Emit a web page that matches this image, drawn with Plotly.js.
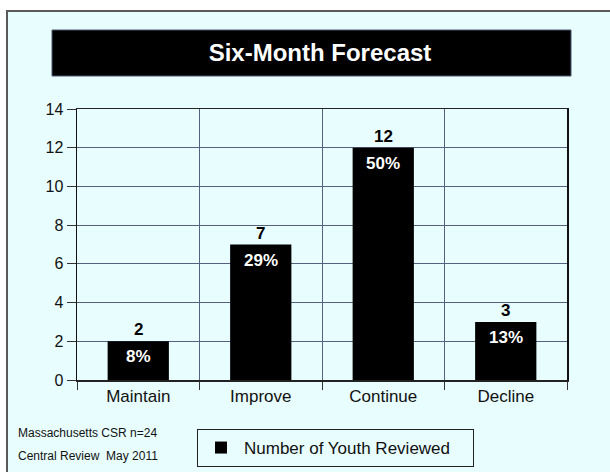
<!DOCTYPE html>
<html>
<head>
<meta charset="utf-8">
<script src="https://cdn.plot.ly/plotly-3.0.1.min.js"></script>
<style>
  html, body { margin: 0; padding: 0; background: #ffffff; }
  #chart { width: 610px; height: 472px; }
</style>
</head>
<body>
<div id="chart"></div>
<script>
// Six-month forecast for reviewed youth
const categories = ['Maintain', 'Improve', 'Continue', 'Decline'];
const youthCounts = [2, 7, 12, 3];
const percentLabels = ['8%', '29%', '50%', '13%'];
const yTickValues = [0, 2, 4, 6, 8, 10, 12, 14];
const footnotes = ['Massachusetts CSR n=24', 'Central Review  May 2011'];
const seriesName = 'Number of Youth Reviewed';

const FONT = 'Liberation Sans, Arial, Helvetica, sans-serif';
const BG = '#e8fdfd';
const GRID = '#56617f';
const INK = '#111111';

// Plot area geometry in pixels (used to place paper-referenced decorations)
const W = 610, H = 472;
const M = { l: 77, r: 43, t: 109, b: 92 };
const pw = W - M.l - M.r, ph = H - M.t - M.b;
const px = x => (x - M.l) / pw;
const py = y => (H - M.b - y) / ph;

const barTrace = {
  type: 'bar',
  x: categories,
  y: youthCounts,
  name: seriesName,
  width: 0.5,
  marker: { color: '#000000', line: { width: 0 } },
  hoverinfo: 'x+y',
  showlegend: true
};

const annotations = [];
categories.forEach((c, i) => {
  // count above each bar
  annotations.push({
    x: c, y: youthCounts[i], xref: 'x', yref: 'y',
    text: String(youthCounts[i]), showarrow: false,
    xanchor: 'center', yanchor: 'bottom', yshift: 0,
    font: { family: FONT, size: 17, color: '#000000', weight: 'bold' }
  });
  // share of total inside the top of each bar
  annotations.push({
    x: c, y: youthCounts[i], xref: 'x', yref: 'y',
    text: percentLabels[i], showarrow: false,
    xanchor: 'center', yanchor: 'top', yshift: -4,
    font: { family: FONT, size: 17, color: '#ffffff', weight: 'bold' }
  });
});
footnotes.forEach((t, i) => {
  annotations.push({
    x: px(16), y: py(433 + i * 23), xref: 'paper', yref: 'paper',
    text: t, showarrow: false, xanchor: 'left', yanchor: 'middle',
    font: { family: FONT, size: 12, color: INK }
  });
});

const layout = {
  width: W, height: H,
  margin: { l: M.l, r: M.r, t: M.t, b: M.b, pad: 0, autoexpand: false },
  paper_bgcolor: '#ffffff',
  plot_bgcolor: 'rgba(0,0,0,0)',
  font: { family: FONT, color: INK },
  title: {
    text: 'Six-Month Forecast',
    font: { family: FONT, size: 24, color: '#ffffff', weight: 'bold' },
    xref: 'paper', x: px(320), xanchor: 'center',
    yref: 'container', y: 1 - 53 / H, yanchor: 'middle'
  },
  xaxis: {
    type: 'category',
    tickson: 'boundaries',
    ticks: 'outside', ticklen: 8, tickwidth: 1, tickcolor: '#333333',
    showgrid: true, gridcolor: GRID, gridwidth: 1,
    showline: true, linecolor: '#222222', linewidth: 1.5, mirror: true,
    tickfont: { family: FONT, size: 17, color: INK },
    fixedrange: true
  },
  yaxis: {
    range: [0, 14],
    tickvals: yTickValues,
    ticks: 'outside', ticklen: 9, tickwidth: 1, tickcolor: '#333333',
    showgrid: true, gridcolor: GRID, gridwidth: 1,
    zeroline: false,
    showline: true, linecolor: '#111111', linewidth: 1.5, mirror: true,
    tickfont: { family: FONT, size: 16, color: INK },
    fixedrange: true
  },
  showlegend: true,
  legend: {
    orientation: 'h',
    x: px(197), xanchor: 'left',
    y: py(429), yanchor: 'top',
    itemwidth: 36,
    entrywidth: 224,
    bgcolor: 'rgba(0,0,0,0)',
    bordercolor: '#222222', borderwidth: 1,
    font: { family: FONT, size: 17, color: INK }
  },
  shapes: [
    // panel background with frame
    {
      type: 'rect', xref: 'paper', yref: 'paper', layer: 'below',
      x0: px(7), x1: px(640), y0: py(500), y1: py(11),
      fillcolor: BG, line: { color: '#5a5a5a', width: 2 }
    },
    // title banner
    {
      type: 'rect', xref: 'paper', yref: 'paper', layer: 'below',
      x0: px(52), x1: px(571), y0: py(76), y1: py(30),
      fillcolor: '#000000', line: { color: '#4a5870', width: 1 }
    }
  ],
  annotations: annotations,
  bargap: 0.5
};

Plotly.newPlot('chart', [barTrace], layout, { displayModeBar: false, staticPlot: true });
</script>
</body>
</html>
